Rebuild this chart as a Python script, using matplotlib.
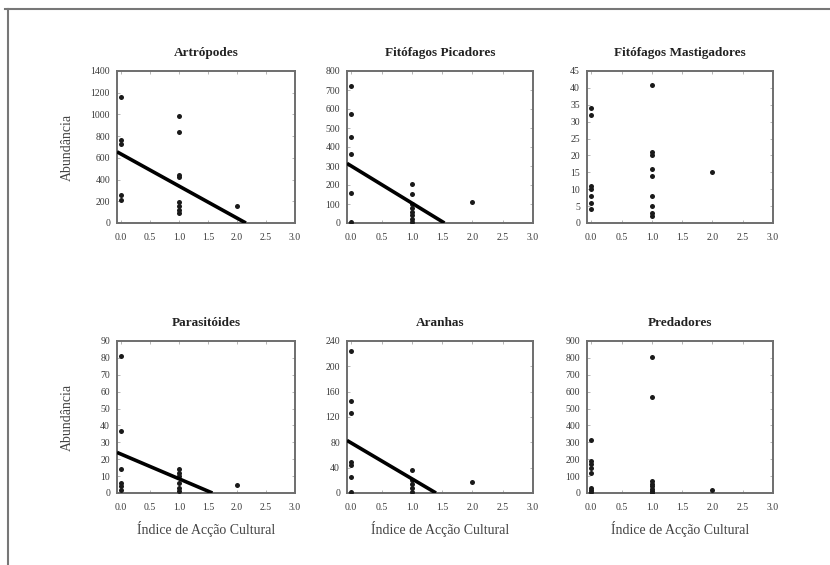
"""Abundância de grupos de artrópodes vs. índice de acção cultural."""
import matplotlib
matplotlib.use('Agg')
import numpy as np
from matplotlib import pyplot as plt
from matplotlib.lines import Line2D

plt.rcParams['font.family'] = ['Liberation Serif', 'DejaVu Serif']

titles = ['Artrópodes', 'Fitófagos Picadores', 'Fitófagos Mastigadores',
          'Parasitóides', 'Aranhas', 'Predadores']

# índice de acção cultural (x) e abundância (y) por grupo
artropodes_x = [0, 0, 0, 0, 0, 1, 1, 1, 1, 1, 1, 1, 1, 2]
artropodes_y = [1165, 760, 730, 260, 210, 990, 835, 445, 420, 195, 155, 120, 90, 160]

picadores_x = [0, 0, 0, 0, 0, 0, 1, 1, 1, 1, 1, 1, 1, 1, 2]
picadores_y = [722, 573, 454, 363, 160, 7, 203, 153, 100, 80, 60, 40, 20, 5, 112]

mastigadores_x = [0, 0, 0, 0, 0, 0, 0, 1, 1, 1, 1, 1, 1, 1, 1, 1, 2]
mastigadores_y = [34, 32, 11, 10, 8, 6, 4, 41, 21, 20, 16, 14, 8, 5, 3, 2, 15]

parasitoides_x = [0, 0, 0, 0, 0, 0, 1, 1, 1, 1, 1, 1, 2]
parasitoides_y = [81, 37, 14, 6, 4, 2, 14, 12, 10, 6, 3, 1, 4.5]

aranhas_x = [0, 0, 0, 0, 0, 0, 0, 1, 1, 1, 1, 1, 2]
aranhas_y = [225, 145, 126, 49, 44, 25, 2, 37, 20, 14, 8, 2, 17]

predadores_x = [0, 0, 0, 0, 0, 0, 0, 0, 1, 1, 1, 1, 1, 1, 1, 1, 2]
predadores_y = [314, 190, 170, 150, 120, 30, 15, 5, 806, 568, 70, 55, 40, 25, 10, 2, 18]

# rectas de regressão (ordenada na origem, declive); None = sem recta
intercepts = [635, 300, None, 23, 79, None]
slopes = [-295, -195, None, -14.6, -56.5, None]

y_max = [1400, 800, 45, 90, 240, 900]
y_step = [200, 100, 5, 10, 40, 100]

xs = [artropodes_x, picadores_x, mastigadores_x,
      parasitoides_x, aranhas_x, predadores_x]
ys = [artropodes_y, picadores_y, mastigadores_y,
      parasitoides_y, aranhas_y, predadores_y]

fig = plt.figure(figsize=(8.3, 5.65), dpi=100)
W, H = 830, 565

# posições dos painéis em pixels (esquerda, direita) e (topo, base)
cols = [(117, 295), (347, 533), (587, 773)]
rows = [(71, 223), (341, 493)]

x_min, x_max = -0.07, 3.0
grey = '#6e6e6e'

for i in range(6):
    r, c = divmod(i, 3)
    left, right = cols[c]
    top, bottom = rows[r]
    ax = fig.add_axes([left / W, 1 - bottom / H, (right - left) / W,
                       (bottom - top) / H])

    ax.plot(xs[i], ys[i], 'o', color='#1a1a1a', markersize=3.6,
            markeredgewidth=0, zorder=3)

    if intercepts[i] is not None:
        a, b = intercepts[i], slopes[i]
        x_end = -a / b
        lx = np.array([x_min, x_end])
        ax.plot(lx, a + b * lx, color='black', lw=2.6, solid_capstyle='butt',
                zorder=4)

    ax.set_xlim(x_min, x_max)
    ax.set_ylim(0, y_max[i])
    ax.set_xticks(np.arange(0, 3.01, 0.5))
    ax.set_xticklabels([f'{v:.1f}' for v in np.arange(0, 3.01, 0.5)])
    ax.set_yticks(np.arange(0, y_max[i] + 1, y_step[i]))

    ax.tick_params(direction='in', length=2.5, width=0.6, color='#aaaaaa',
                   labelsize=7, labelcolor='#3a3a3a', top=True, right=True)
    ax.tick_params(axis='x', pad=7)
    ax.tick_params(axis='y', pad=5)
    for s in ax.spines.values():
        s.set_color(grey)
        s.set_linewidth(1.4)

    ax.set_title(titles[i], fontsize=9.5, fontweight='bold', pad=11,
                 color='#222222')

    if c == 0:
        ax.set_ylabel('Abundância', fontsize=10, color='#444444')
        ax.yaxis.set_label_coords((74 - left) / (right - left), 0.5)
    if r == 1:
        ax.set_xlabel('Índice de Acção Cultural', fontsize=10,
                      color='#444444', labelpad=7)

# moldura exterior (lado superior e esquerdo)
fig.add_artist(Line2D([5 / W, 1.0], [1 - 8.5 / H, 1 - 8.5 / H],
                      color='#777777', lw=1.5))
fig.add_artist(Line2D([7.5 / W, 7.5 / W], [0, 1 - 8.5 / H],
                      color='#777777', lw=1.5))

fig.savefig('out.png', dpi=100, facecolor='white')
